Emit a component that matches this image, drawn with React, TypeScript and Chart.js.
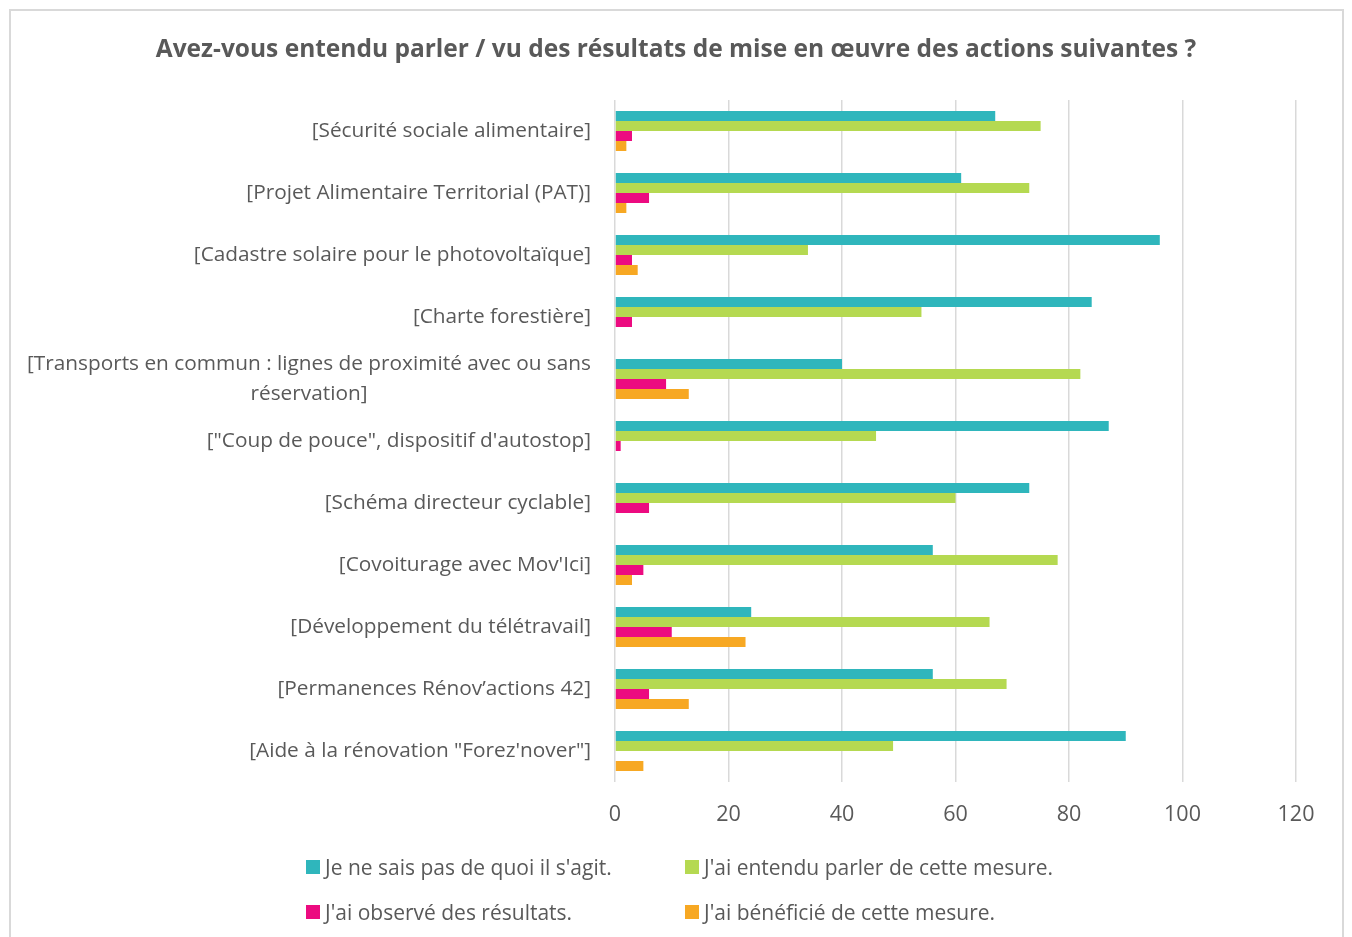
import React, { useEffect, useRef } from "react";
import { Chart, registerables } from "chart.js";

Chart.register(...registerables);

const title = "Avez-vous entendu parler / vu des résultats de mise en œuvre des actions suivantes ?";

const categories: (string | string[])[] = [
  "[Sécurité sociale alimentaire]",
  "[Projet Alimentaire Territorial (PAT)]",
  "[Cadastre solaire pour le photovoltaïque]",
  "[Charte forestière]",
  ["[Transports en commun : lignes de proximité avec ou sans", "réservation]"],
  "[\"Coup de pouce\", dispositif d'autostop]",
  "[Schéma directeur cyclable]",
  "[Covoiturage avec Mov'Ici]",
  "[Développement du télétravail]",
  "[Permanences Rénov’actions 42]",
  "[Aide à la rénovation \"Forez'nover\"]",
];

const seriesNames = [
  "Je ne sais pas de quoi il s'agit.",
  "J'ai entendu parler de cette mesure.",
  "J'ai observé des résultats.",
  "J'ai bénéficié de cette mesure.",
];

const unknownValues = [67, 61, 96, 84, 40, 87, 73, 56, 24, 56, 90];
const heardValues = [75, 73, 34, 54, 82, 46, 60, 78, 66, 69, 49];
const observedValues = [3, 6, 3, 3, 9, 1, 6, 5, 10, 6, 0];
const benefitedValues = [2, 2, 4, 0, 13, 0, 0, 3, 23, 13, 5];

const colors = ["#2FB6BC", "#B5D951", "#EC0B80", "#F7A823"];

const xTicks = [0, 20, 40, 60, 80, 100, 120];

const FONT = "'Open Sans', sans-serif";
const TEXT = "#595959";
const LABEL_SIZE = 20.8;
const LABEL_LINE = 30;

const yLabelPlugin = {
  id: "yLabelPlugin",
  afterDraw(chart: any) {
    const scale = chart.scales.y;
    const ctx = chart.ctx;
    const right = chart.chartArea.left - 24;
    ctx.save();
    ctx.font = `${LABEL_SIZE}px ${FONT}`;
    ctx.fillStyle = TEXT;
    ctx.textAlign = "center";
    ctx.textBaseline = "middle";
    categories.forEach((lab, i) => {
      const lines = Array.isArray(lab) ? lab : [lab];
      const maxW = Math.max(...lines.map((l) => ctx.measureText(l).width));
      const cx = right - maxW / 2;
      const cy = scale.getPixelForTick(i);
      const start = cy - ((lines.length - 1) * LABEL_LINE) / 2;
      lines.forEach((l, j) => ctx.fillText(l, cx, start + j * LABEL_LINE));
    });
    ctx.restore();
  },
};

export default function App() {
  const ref = useRef<HTMLCanvasElement | null>(null);

  useEffect(() => {
    if (!ref.current) return;
    const allValues = [unknownValues, heardValues, observedValues, benefitedValues];
    const chart = new Chart(ref.current, {
      type: "bar",
      data: {
        labels: categories as any,
        datasets: allValues.map((vals, i) => ({
          label: seriesNames[i],
          data: vals,
          backgroundColor: colors[i],
          borderWidth: 0,
          barPercentage: 1,
          categoryPercentage: 0.645,
        })),
      },
      options: {
        indexAxis: "y",
        responsive: false,
        animation: false,
        layout: { padding: { left: 56, right: 56, top: 0, bottom: 105 } },
        plugins: {
          legend: { display: false },
          tooltip: { enabled: false },
          title: {
            display: true,
            text: title,
            color: TEXT,
            font: { family: FONT, size: 24.5, weight: "bold" },
            padding: { top: 35.3, bottom: 35.3 },
          },
        },
        scales: {
          x: {
            min: 0,
            max: 120,
            afterBuildTicks: (s: any) => {
              s.ticks = xTicks.map((v) => ({ value: v }));
            },
            afterFit: (s: any) => {
              s.height = 50;
            },
            grid: { color: "#d9d9d9", lineWidth: 1.5, drawTicks: false },
            border: { display: false },
            ticks: {
              color: TEXT,
              font: { family: FONT, size: 21.5 },
              padding: 20,
            },
          },
          y: {
            afterFit: (s: any) => {
              s.width = 559;
            },
            grid: { display: false, drawTicks: false },
            border: { display: false },
            ticks: { color: "rgba(0,0,0,0)", font: { family: FONT, size: LABEL_SIZE }, padding: 24 },
          },
        },
      },
      plugins: [yLabelPlugin],
    } as any);
    return () => chart.destroy();
  }, []);

  const legendPos = [
    { left: 306, top: 860 },
    { left: 685, top: 860 },
    { left: 306, top: 905 },
    { left: 685, top: 905 },
  ];

  return (
    <div style={{ position: "absolute", left: 0, top: 0, width: 1352, height: 937, overflow: "hidden", background: "#fff" }}>
      <div
        style={{
          position: "absolute",
          left: 9,
          top: 9,
          width: 1335,
          height: 940,
          border: "2px solid #d9d9d9",
          boxSizing: "border-box",
        }}
      />
      <canvas ref={ref} width={1352} height={937} style={{ position: "absolute", left: 0, top: 0, display: "block" }} />
      {seriesNames.map((name, i) => (
        <div
          key={name}
          style={{
            position: "absolute",
            left: legendPos[i].left,
            top: legendPos[i].top,
            height: 14,
            display: "flex",
            alignItems: "center",
            fontFamily: FONT,
            fontSize: 21,
            color: TEXT,
            whiteSpace: "nowrap",
          }}
        >
          <span style={{ display: "inline-block", width: 14, height: 14, background: colors[i], marginRight: 5, flex: "none" }} />
          <span>{name}</span>
        </div>
      ))}
    </div>
  );
}
